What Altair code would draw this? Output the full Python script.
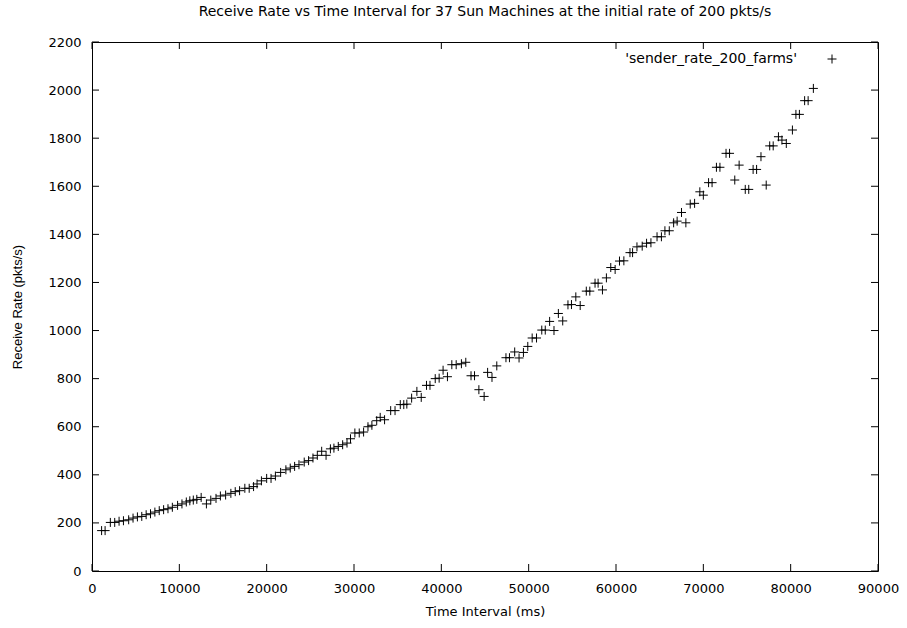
import altair as alt
import pandas as pd

time_ms = [1100, 1500, 2100, 2600, 3100, 3600, 4200, 4700, 5200, 5700, 6200, 6700, 7200, 7700,
           8200, 8700, 9200, 9800, 10300, 10800, 11200,
           11600, 12000, 12500, 13100, 13600, 14200, 14700, 15300, 15900, 16400, 16900, 17500,
           18000, 18500, 18900, 19400, 20000, 20500, 21000, 21600,
           22200, 22700, 23200, 23700, 24300, 24800, 25300, 25800, 26300, 26800, 27300, 27700,
           28200, 28700, 29200, 29600, 30100, 30600, 31100, 31600,
           32050, 32600, 33000, 33500, 34200, 34700, 35300, 35700, 36050, 36600, 37200, 37700,
           38300, 38700, 39300,
           39750, 40200, 40700, 41200, 41700, 42300, 42800, 43400, 43800, 44300, 44900, 45300,
           45800, 46350,
           47400, 47800, 48400, 48900, 49400, 49900, 50400, 50900, 51500, 51900, 52400, 52900,
           53400, 53900, 54500, 54900, 55400, 55900, 56600, 57000, 57600, 57950, 58450, 58900,
           59400, 59900, 60400, 60900, 61600, 61900, 62400, 63000, 63500, 64000, 64700, 65200,
           65600, 66100, 66600, 67000, 67500, 68000, 68500, 69000, 69600, 70000, 70600, 71000,
           71500, 71900, 72600, 73000, 73600, 74100, 74800, 75200, 75700, 76100, 76600, 77200,
           77600, 78000, 78600, 79000, 79500, 80200, 80600, 81000, 81600, 82000, 82600]

receive_rate = [168, 168, 202, 202, 207, 209, 213, 220, 225, 227, 234, 238, 245, 251,
                255, 259, 265, 273, 279, 287, 292,
                295, 298, 306, 279, 295, 302, 312, 316, 323, 330, 334, 344,
                344, 351, 362, 375, 385, 385, 395, 410,
                421, 428, 435, 442, 453, 459, 470, 481, 498, 481, 508, 511,
                518, 525, 532, 550, 574, 574, 578, 600,
                606, 625, 639, 629, 667, 667, 692, 692, 694, 719, 747, 722,
                772, 772, 800,
                802, 835, 808, 858, 858, 862, 868, 812, 812, 754, 726, 826,
                805, 853,
                887, 887, 911, 886, 909, 934, 969, 969, 1002, 1002, 1038, 1000,
                1071, 1040, 1107, 1108, 1140, 1104, 1164, 1164, 1197, 1197, 1169, 1219,
                1262, 1254, 1289, 1290, 1324, 1324, 1348, 1351, 1363, 1365, 1390, 1390,
                1415, 1415, 1448, 1455, 1491, 1448, 1526, 1529, 1577, 1563, 1615, 1615,
                1679, 1679, 1737, 1737, 1626, 1688, 1587, 1587, 1670, 1670, 1723, 1605,
                1768, 1768, 1806, 1792, 1778, 1834, 1899, 1899, 1956, 1956, 2007]

x_ticks = [0, 10000, 20000, 30000, 40000, 50000, 60000, 70000, 80000, 90000]
y_ticks = [0, 200, 400, 600, 800, 1000, 1200, 1400, 1600, 1800, 2000, 2200]

series_name = "'sender_rate_200_farms'"
title_text = "Receive Rate vs Time Interval for 37 Sun Machines at the initial rate of 200 pkts/s"

W, H = 786, 529
TICK = 7
FONT = "DejaVu Sans"
FONT_ROT = "Liberation Sans"

df = pd.DataFrame({"t": time_ms, "r": receive_rate})
dx = pd.DataFrame({"t": x_ticks})
dy = pd.DataFrame({"r": y_ticks})

xs = alt.Scale(domain=[0, 90000], nice=False, zero=False)
ys = alt.Scale(domain=[0, 2200], nice=False, zero=False)

plus = "M-1,0L1,0M0,-1L0,1"

points = alt.Chart(df).mark_point(
    shape=plus, filled=False, stroke="black", strokeWidth=1, size=81, opacity=1
).encode(
    x=alt.X("t:Q", scale=xs, axis=alt.Axis(
        values=x_ticks, format="d", title="Time Interval (ms)", grid=False, ticks=False,
        domain=False, labelPadding=11, labelFontSize=13, labelFont=FONT, labelColor="black",
        titleFont=FONT, titleFontSize=13, titleFontWeight="normal", titleColor="black",
        titlePadding=10, labelFlush=False)),
    y=alt.Y("r:Q", scale=ys, axis=alt.Axis(
        values=y_ticks, format="d", title="Receive Rate (pkts/s)", grid=False, ticks=False,
        domain=False, labelPadding=11, labelFontSize=13, labelFont=FONT, labelColor="black",
        titleFont=FONT_ROT, titleFontSize=13, titleFontWeight="normal", titleColor="black",
        titlePadding=23, labelFlush=False)),
)

xt_bottom = alt.Chart(dx).mark_rule(color="black", strokeWidth=1).encode(
    x=alt.X("t:Q", scale=xs), y=alt.value(H), y2=alt.value(H - TICK))
xt_top = alt.Chart(dx).mark_rule(color="black", strokeWidth=1).encode(
    x=alt.X("t:Q", scale=xs), y=alt.value(0), y2=alt.value(TICK))
yt_left = alt.Chart(dy).mark_rule(color="black", strokeWidth=1).encode(
    y=alt.Y("r:Q", scale=ys), x=alt.value(0), x2=alt.value(TICK))
yt_right = alt.Chart(dy).mark_rule(color="black", strokeWidth=1).encode(
    y=alt.Y("r:Q", scale=ys), x=alt.value(W), x2=alt.value(W - TICK))

legend_df = pd.DataFrame({"name": [series_name]})
legend_text = alt.Chart(legend_df).mark_text(
    align="right", baseline="middle", font=FONT, fontSize=14, color="black"
).encode(text="name:N", x=alt.value(705), y=alt.value(17))
legend_sym = alt.Chart(legend_df).mark_point(
    shape=plus, filled=False, stroke="black", strokeWidth=1, size=81, opacity=1
).encode(x=alt.value(740), y=alt.value(17))

chart = alt.layer(
    points, xt_bottom, xt_top, yt_left, yt_right, legend_text, legend_sym
).properties(
    width=W, height=H,
    title=alt.TitleParams(title_text, font=FONT, fontSize=14, fontWeight="normal",
                          color="black", anchor="middle", offset=17),
    autosize=alt.AutoSizeParams(type="none"),
    padding={"left": 92, "top": 42, "right": 29, "bottom": 57},
).configure(
    background="white"
).configure_view(
    stroke="black", strokeWidth=1
)

chart.save("out.html", embed_options={"renderer": "svg", "actions": False})
